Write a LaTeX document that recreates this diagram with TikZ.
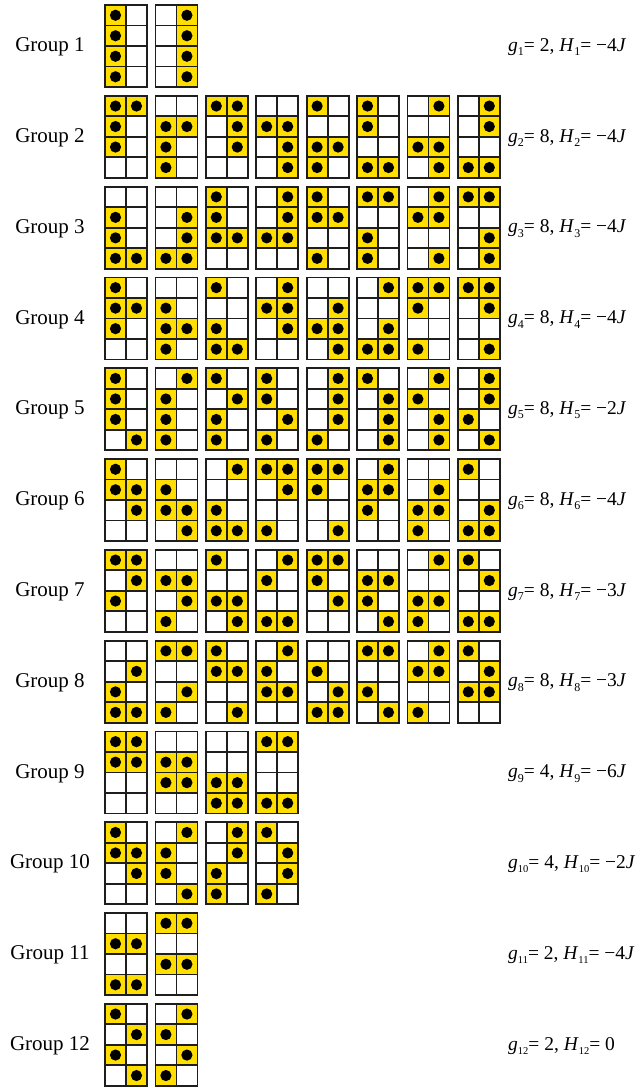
\documentclass[tikz,border=0pt]{standalone}
\usepackage{fontspec}
\setmainfont{Liberation Serif}

\definecolor{siteyellow}{RGB}{255,222,0}
\definecolor{gridgray}{RGB}{30,30,30}

\newcommand{\lowsub}[1]{\raisebox{-0.5ex}{\ifnum#1>9 \fontsize{10.5}{11}\selectfont\else\fontsize{12}{12}\selectfont\fi #1}}
\newcommand{\energylabel}[3]{\textit{g}\lowsub{#1}= #2, \textit{H}\lowsub{#1}= #3}

% one row of 2x4 configurations, #1 = group, #2 = filled cells (col/row)
\newcommand{\confrow}[2]{%
  \foreach \cells [count=\k from 0] in {#2} {
    \begin{scope}[shift={({105+50.4*\k}, {5+90.8*(#1-1)})}]
      \foreach \cx/\cy in \cells {
        \fill[occupied] ({21*\cx}, {20.5*\cy}) rectangle +(21, 20.5);
        \fill[particle] ({21*\cx+10.5}, {20.5*\cy+10.25}) circle[radius=5.6pt];
      }
      \foreach \j in {1,2,3}
        \draw[cellline] (0, {20.5*\j}) -- (42, {20.5*\j});
      \draw[cellline] (21,0) -- (21,82);
      \draw[cellline] (0,0) rectangle (42,82);
    \end{scope}
  }%
}

\begin{document}
\begin{tikzpicture}[x=1pt, y=-1pt,
    occupied/.style={fill=siteyellow},
    particle/.style={fill=black},
    cellline/.style={draw=gridgray, line width=1.8pt},
    grouplabel/.style={font=\fontsize{21}{24}\selectfont, inner sep=0pt},
    energy/.style={font=\fontsize{19.5}{22}\selectfont, anchor=west, inner sep=0pt}]
  \fill[white] (0,0) rectangle (640,1088);
  \useasboundingbox (0,0) rectangle (640,1088);

  \confrow{1}{{0/0,0/1,0/2,0/3},{1/0,1/1,1/2,1/3}}
  \confrow{2}{{0/0,1/0,0/1,0/2},{0/1,1/1,0/2,0/3},{0/0,1/0,1/1,1/2},{0/1,1/1,1/2,1/3},
              {0/0,0/2,1/2,0/3},{0/0,0/1,0/3,1/3},{1/0,0/2,1/2,1/3},{1/0,1/1,0/3,1/3}}
  \confrow{3}{{0/1,0/2,0/3,1/3},{1/1,1/2,0/3,1/3},{0/0,0/1,0/2,1/2},{1/0,1/1,0/2,1/2},
              {0/0,0/1,1/1,0/3},{0/0,1/0,0/2,0/3},{1/0,0/1,1/1,1/3},{0/0,1/0,1/2,1/3}}
  \confrow{4}{{0/0,0/1,1/1,0/2},{0/1,0/2,1/2,0/3},{0/0,0/2,0/3,1/3},{1/0,0/1,1/1,1/2},
              {1/1,0/2,1/2,1/3},{1/0,1/2,0/3,1/3},{0/0,1/0,0/1,0/3},{0/0,1/0,1/1,1/3}}
  \confrow{5}{{0/0,0/1,0/2,1/3},{1/0,0/1,0/2,0/3},{0/0,1/1,0/2,0/3},{0/0,0/1,1/2,0/3},
              {1/0,1/1,1/2,0/3},{0/0,1/1,1/2,1/3},{1/0,0/1,1/2,1/3},{1/0,1/1,0/2,1/3}}
  \confrow{6}{{0/0,0/1,1/1,1/2},{0/1,0/2,1/2,1/3},{1/0,0/2,0/3,1/3},{0/0,1/0,1/1,0/3},
              {0/0,1/0,0/1,1/3},{1/0,0/1,1/1,0/2},{1/1,0/2,1/2,0/3},{0/0,1/2,0/3,1/3}}
  \confrow{7}{{0/0,1/0,1/1,0/2},{0/1,1/1,1/2,0/3},{0/0,0/2,1/2,1/3},{1/0,0/1,0/3,1/3},
              {0/0,1/0,0/1,1/2},{0/1,1/1,0/2,1/3},{1/0,0/2,1/2,0/3},{0/0,1/1,0/3,1/3}}
  \confrow{8}{{1/1,0/2,0/3,1/3},{0/0,1/0,1/2,0/3},{0/0,0/1,1/1,1/3},{1/0,0/1,0/2,1/2},
              {0/1,1/2,0/3,1/3},{0/0,1/0,0/2,1/3},{1/0,0/1,1/1,0/3},{0/0,1/1,0/2,1/2}}
  \confrow{9}{{0/0,1/0,0/1,1/1},{0/1,1/1,0/2,1/2},{0/2,1/2,0/3,1/3},{0/0,1/0,0/3,1/3}}
  \confrow{10}{{0/0,0/1,1/1,1/2},{1/0,0/1,0/2,1/3},{1/0,1/1,0/2,0/3},{0/0,1/1,1/2,0/3}}
  \confrow{11}{{0/1,1/1,0/3,1/3},{0/0,1/0,0/2,1/2}}
  \confrow{12}{{0/0,1/1,0/2,1/3},{1/0,0/1,1/2,0/3}}

  \foreach \n in {1,...,12}
    \node[grouplabel] (group\n) at (50, {47+90.8*(\n-1)}) {Group \n};

  \foreach \n/\gv/\hv in {1/2/{−4\textit{J}}, 2/8/{−4\textit{J}}, 3/8/{−4\textit{J}},
      4/8/{−4\textit{J}}, 5/8/{−2\textit{J}}, 6/8/{−4\textit{J}}, 7/8/{−3\textit{J}},
      8/8/{−3\textit{J}}, 9/4/{−6\textit{J}}, 10/4/{−2\textit{J}}, 11/2/{−4\textit{J}},
      12/2/{0}}
    \node[energy] (energy\n) at (508, {47+90.8*(\n-1)}) {\energylabel{\n}{\gv}{\hv}};
\end{tikzpicture}
\end{document}
